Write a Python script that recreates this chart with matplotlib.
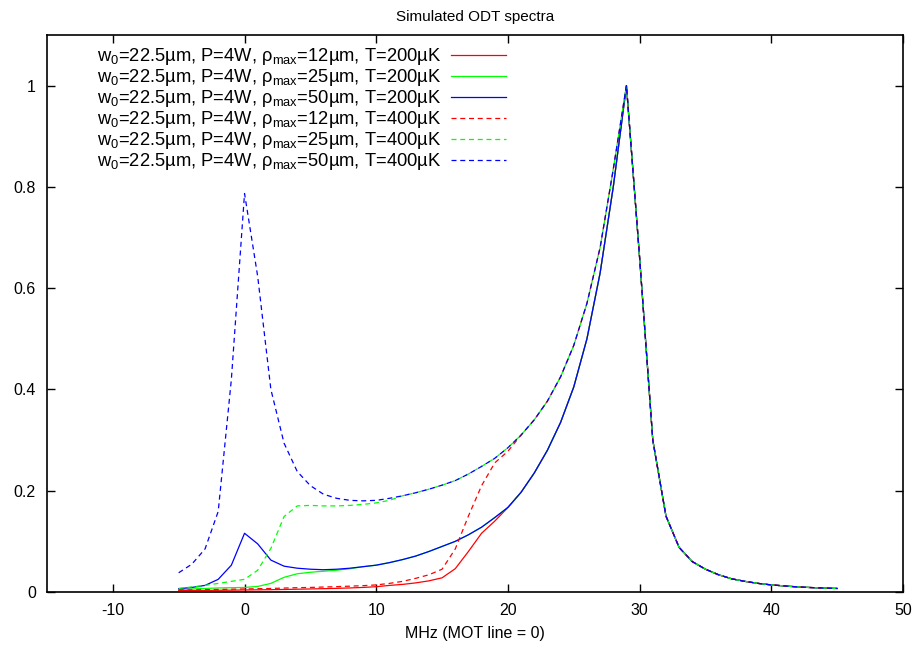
import numpy as np
import matplotlib
matplotlib.use("Agg")
import matplotlib.pyplot as plt

plt.rcParams['font.family'] = ['Liberation Sans', 'DejaVu Sans']
plt.rcParams['mathtext.fontset'] = 'custom'
plt.rcParams['mathtext.rm'] = 'Liberation Sans'
plt.rcParams['mathtext.it'] = 'Liberation Sans'
plt.rcParams['axes.unicode_minus'] = False

# detuning in MHz, one point per MHz
freq = np.arange(-5, 46)

# shared high-frequency part (29 MHz peak and tail), x = 29..45
tail = [1.0, 0.66, 0.30, 0.15, 0.088, 0.06, 0.045, 0.034, 0.026, 0.021,
        0.017, 0.014, 0.012, 0.010, 0.0088, 0.0078, 0.007]

# T = 200 uK, x = -5..28
red_200 = [0.003, 0.003, 0.0032, 0.0034, 0.0036, 0.004, 0.0043, 0.0046, 0.005, 0.0055,
           0.006, 0.0066, 0.0072, 0.008, 0.009, 0.0105, 0.013, 0.015, 0.018, 0.022,
           0.028, 0.046, 0.08, 0.116, 0.14, 0.167, 0.197, 0.235, 0.28, 0.335,
           0.405, 0.50, 0.63, 0.80]
green_200 = [0.005, 0.006, 0.007, 0.008, 0.0085, 0.009, 0.011, 0.017, 0.029, 0.036,
             0.039, 0.041, 0.043, 0.046, 0.05, 0.053, 0.058, 0.064, 0.071, 0.08,
             0.09, 0.10, 0.113, 0.128, 0.147, 0.167, 0.197, 0.235, 0.28, 0.335,
             0.405, 0.50, 0.63, 0.80]
blue_200 = [0.0065, 0.009, 0.013, 0.025, 0.053, 0.116, 0.095, 0.063, 0.051, 0.047,
            0.045, 0.044, 0.045, 0.047, 0.05, 0.053, 0.058, 0.064, 0.071, 0.08,
            0.09, 0.10, 0.113, 0.128, 0.147, 0.167, 0.197, 0.235, 0.28, 0.335,
            0.405, 0.50, 0.63, 0.80]

# T = 400 uK, x = -5..28
red_400 = [0.004, 0.0043, 0.0046, 0.005, 0.0055, 0.006, 0.0065, 0.007, 0.0078, 0.0085,
           0.009, 0.0098, 0.0106, 0.0115, 0.0125, 0.014, 0.017, 0.021, 0.027, 0.034,
           0.045, 0.085, 0.15, 0.21, 0.255, 0.278, 0.31, 0.34, 0.377, 0.425,
           0.487, 0.57, 0.68, 0.835]
green_400 = [0.007, 0.01, 0.013, 0.017, 0.021, 0.025, 0.043, 0.086, 0.149, 0.17,
             0.171, 0.17, 0.17, 0.171, 0.173, 0.176, 0.181, 0.19, 0.196, 0.203,
             0.211, 0.22, 0.233, 0.248, 0.264, 0.285, 0.31, 0.34, 0.377, 0.425,
             0.487, 0.57, 0.68, 0.835]
blue_400 = [0.038, 0.055, 0.085, 0.159, 0.42, 0.787, 0.623, 0.40, 0.294, 0.238,
            0.21, 0.193, 0.185, 0.181, 0.18, 0.181, 0.185, 0.19, 0.196, 0.203,
            0.211, 0.22, 0.233, 0.248, 0.264, 0.285, 0.31, 0.34, 0.377, 0.425,
            0.487, 0.57, 0.68, 0.835]

rho_max = [12, 25, 50]
colors = ['#ff0000', '#00ff00', '#0000ff']
series_200 = [red_200, green_200, blue_200]
series_400 = [red_400, green_400, blue_400]

fig = plt.figure(figsize=(9.17, 6.55), dpi=100)
ax = fig.add_axes([47 / 917, 1 - 592 / 655, 856 / 917, 557 / 655])

for T, series, ls in [(200, series_200, '-'), (400, series_400, (0, (4, 3)))]:
    for rho, ys, c in zip(rho_max, series, colors):
        label = (r'w$_0$=22.5µm, P=4W, ρ$_{\mathrm{max}}$=' + f'{rho}µm, T={T}µK')
        ax.plot(freq, list(ys) + tail, color=c, lw=0.9, ls=ls, label=label)

ax.set_xlim(-15, 50)
ax.set_ylim(0, 1.1)
ax.set_xticks(np.arange(-10, 51, 10))
ax.set_yticks([0, 0.2, 0.4, 0.6, 0.8, 1])
ax.set_yticklabels(['0', '0.2', '0.4', '0.6', '0.8', '1'])
ax.tick_params(direction='in', top=True, right=True, length=6, width=1,
               labelsize=11.5, pad=8)
for s in ax.spines.values():
    s.set_linewidth(1.2)

ax.set_xlabel('MHz (MOT line = 0)', fontsize=11.5, labelpad=6)
ax.set_title('Simulated ODT spectra', fontsize=11, pad=10)

ax.legend(loc='upper left', bbox_to_anchor=(88 / 917, 1 - 37 / 655),
          bbox_transform=fig.transFigure, frameon=False, markerfirst=False,
          fontsize=13.2, handlelength=3.0, labelspacing=0.0, borderpad=0,
          handletextpad=0.5)

fig.savefig('out.png', dpi=100)
